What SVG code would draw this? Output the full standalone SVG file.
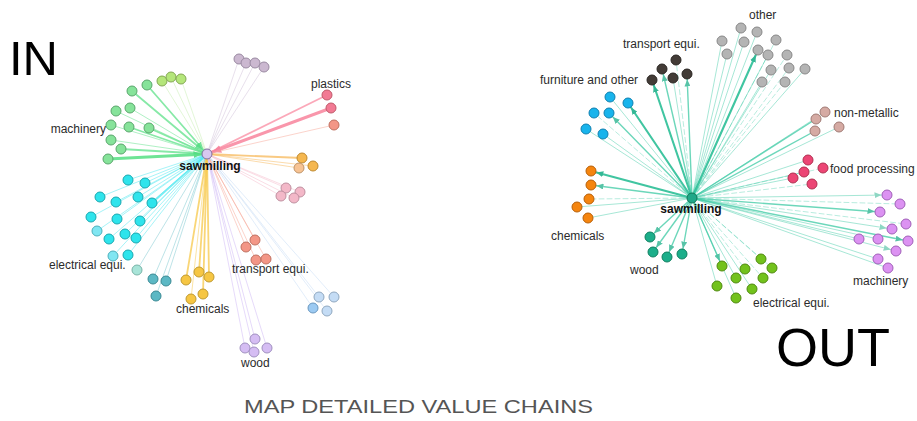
<svg xmlns="http://www.w3.org/2000/svg" width="917" height="421" viewBox="0 0 917 421">
  <defs>
    <style>
      text { font-family: "Liberation Sans", Arial, sans-serif; fill: #2b2b2b; }
      .lbl { font-size: 12px; }
      .hub { font-size: 12px; font-weight: bold; fill: #111; text-anchor: middle; }
      .big { font-size: 50px; fill: #000; }
      .title { font-size: 19px; fill: #555; }
      line { stroke-linecap: round; fill: none; }
      circle { stroke-width: 1; }
      .w1 { stroke-width: 1; opacity: .5; }
      .w2 { stroke-width: 1.8; opacity: .75; }
      .w3 { stroke-width: 3; opacity: .9; }
      /* inbound edge colours */
      .l-gr { stroke: #5fe28a; }
      .l-yg { stroke: #c6eeb0; }
      .l-lv { stroke: #d2c2da; }
      .l-pk { stroke: #f98ba2; }
      .l-or { stroke: #f7b85a; }
      .l-lp { stroke: #f5bccb; }
      .l-cy { stroke: #4ee8f0; }
      .l-tl { stroke: #7cc8d0; }
      .l-ye { stroke: #f7c84a; }
      .l-sa { stroke: #f7a898; }
      .l-lb { stroke: #c6dcf6; }
      .l-pu { stroke: #cdb6f5; }
      /* outbound edges */
      .o { stroke: #3ccaa4; }
      .o.w1 { stroke-width: .9; opacity: .5; }
      .o.w2 { stroke-width: 1.4; opacity: .75; }
      .o.w3 { stroke-width: 2.1; opacity: .9; stroke: #2cbf97; }
      .od { stroke: #3ccaa4; stroke-width: .9; opacity: .4; stroke-dasharray: 5 3; }
      /* node fills */
      .n-gr { fill: #86e39a; stroke: #5aa66c; }
      .n-yg { fill: #b4e67a; stroke: #84a854; }
      .n-lv { fill: #cbb8d0; stroke: #9a8aa2; }
      .n-pk { fill: #f27a94; stroke: #c05a6a; }
      .n-sa { fill: #f39686; stroke: #c07060; }
      .n-or { fill: #f5b74f; stroke: #c08a30; }
      .n-ol { fill: #f7c393; stroke: #c09468; }
      .n-lp { fill: #f3b8c8; stroke: #c090a0; }
      .n-cy { fill: #2ee4ec; stroke: #1aa8b0; }
      .n-cl { fill: #80e6f2; stroke: #4cb0bc; }
      .n-pt { fill: #a8e4d8; stroke: #7ab4a8; }
      .n-tl { fill: #5cb8c4; stroke: #3a8a94; }
      .n-ye { fill: #f6c643; stroke: #c09a30; }
      .n-lb { fill: #c4dcf5; stroke: #90a8c0; }
      .n-bb { fill: #9ccaf2; stroke: #6a98c0; }
      .n-pu { fill: #d5bdf3; stroke: #a090c0; }
      .n-hubL { fill: #d8c8f0; stroke: #8070a0; }
      .n-dk { fill: #433c37; stroke: #2a2622; }
      .n-bl { fill: #18b4ec; stroke: #1080b0; }
      .n-gy { fill: #b4b4b4; stroke: #888888; }
      .n-nm { fill: #d5aaa3; stroke: #a07a74; }
      .n-fd { fill: #ec4675; stroke: #b03050; }
      .n-vi { fill: #dc92f2; stroke: #a060b8; }
      .n-eg { fill: #72c21c; stroke: #508a10; }
      .n-wd { fill: #1cae8a; stroke: #108060; }
      .n-oc { fill: #f5850f; stroke: #b86008; }
      .n-hubR { fill: #20a888; stroke: #107858; }
    </style>
    <marker id="arr-out" markerUnits="userSpaceOnUse" markerWidth="7" markerHeight="6" viewBox="0 0 7 6" refX="12.5" refY="3" orient="auto">
      <path d="M0,0 L7,3 L0,6 z" fill="#1fb08a"/>
    </marker>
    <marker id="arr-gr" markerUnits="userSpaceOnUse" markerWidth="8" markerHeight="7" viewBox="0 0 8 7" refX="13.5" refY="3.5" orient="auto">
      <path d="M0,0 L8,3.5 L0,7 z" fill="#4fdc80"/>
    </marker>
    <marker id="arr-pk" markerUnits="userSpaceOnUse" markerWidth="9" markerHeight="8" viewBox="0 0 9 8" refX="14.5" refY="4" orient="auto">
      <path d="M0,0 L9,4 L0,8 z" fill="#f7809a"/>
    </marker>
  </defs>

  <rect width="917" height="421" fill="#ffffff"/>

  <!-- inbound connectors: every supplier points into the sawmilling hub -->
  <g id="in-connectors">
    <line class="l-yg w1" x1="162" y1="81" x2="207" y2="154"/>
    <line class="l-yg w1" x1="171" y1="77" x2="207" y2="154"/>
    <line class="l-yg w1" x1="181" y1="79" x2="207" y2="154"/>
    <line class="l-lv w1" x1="239" y1="59" x2="207" y2="154"/>
    <line class="l-lv w1" x1="246" y1="63" x2="207" y2="154"/>
    <line class="l-lv w1" x1="255" y1="63" x2="207" y2="154"/>
    <line class="l-lv w1" x1="264" y1="67" x2="207" y2="154"/>
    <line class="l-gr w2" x1="147" y1="85" x2="207" y2="154" marker-end="url(#arr-gr)"/>
    <line class="l-gr w2" x1="132" y1="91" x2="207" y2="154" marker-end="url(#arr-gr)"/>
    <line class="l-gr w1" x1="116" y1="111" x2="207" y2="154"/>
    <line class="l-gr w1" x1="130" y1="108" x2="207" y2="154"/>
    <line class="l-gr w1" x1="111" y1="125" x2="207" y2="154"/>
    <line class="l-gr w2" x1="129" y1="127" x2="207" y2="154"/>
    <line class="l-gr w2" x1="149" y1="128" x2="207" y2="154"/>
    <line class="l-gr w1" x1="111" y1="140" x2="207" y2="154"/>
    <line class="l-gr w2" x1="121" y1="149" x2="207" y2="154"/>
    <line class="l-gr w3" x1="108" y1="159" x2="207" y2="154" marker-end="url(#arr-gr)"/>
    <line class="l-pk w2" x1="327" y1="95" x2="207" y2="154"/>
    <line class="l-pk w3" x1="331" y1="108" x2="207" y2="154" marker-end="url(#arr-pk)"/>
    <line class="l-sa w1" x1="334" y1="125" x2="207" y2="154"/>
    <line class="l-or w2" x1="302" y1="158" x2="207" y2="154"/>
    <line class="l-or w1" x1="313" y1="166" x2="207" y2="154"/>
    <line class="l-or w1" x1="299" y1="168" x2="207" y2="154"/>
    <line class="l-lp w1" x1="286" y1="188" x2="207" y2="154"/>
    <line class="l-lp w1" x1="300" y1="192" x2="207" y2="154"/>
    <line class="l-lp w1" x1="281" y1="196" x2="207" y2="154"/>
    <line class="l-lp w1" x1="294" y1="198" x2="207" y2="154"/>
    <line class="l-cy w1" x1="128" y1="180" x2="207" y2="154"/>
    <line class="l-cy w1" x1="145" y1="183" x2="207" y2="154"/>
    <line class="l-cy w1" x1="100" y1="197" x2="207" y2="154"/>
    <line class="l-cy w1" x1="116" y1="202" x2="207" y2="154"/>
    <line class="l-cy w1" x1="138" y1="197" x2="207" y2="154"/>
    <line class="l-cy w2" x1="152" y1="203" x2="207" y2="154"/>
    <line class="l-cy w1" x1="91" y1="217" x2="207" y2="154"/>
    <line class="l-cy w1" x1="117" y1="219" x2="207" y2="154"/>
    <line class="l-cy w1" x1="140" y1="221" x2="207" y2="154"/>
    <line class="l-cy w1" x1="97" y1="231" x2="207" y2="154"/>
    <line class="l-cy w1" x1="109" y1="239" x2="207" y2="154"/>
    <line class="l-cy w1" x1="125" y1="234" x2="207" y2="154"/>
    <line class="l-cy w1" x1="136" y1="238" x2="207" y2="154"/>
    <line class="l-cy w1" x1="113" y1="256" x2="207" y2="154"/>
    <line class="l-cy w1" x1="128" y1="255" x2="207" y2="154"/>
    <line class="l-tl w1" x1="137" y1="270" x2="207" y2="154"/>
    <line class="l-tl w1" x1="153" y1="279" x2="207" y2="154"/>
    <line class="l-tl w1" x1="166" y1="281" x2="207" y2="154"/>
    <line class="l-tl w1" x1="156" y1="296" x2="207" y2="154"/>
    <line class="l-ye w2" x1="186" y1="280" x2="207" y2="154"/>
    <line class="l-ye w2" x1="199" y1="272" x2="207" y2="154"/>
    <line class="l-ye w2" x1="209" y1="277" x2="207" y2="154"/>
    <line class="l-ye w1" x1="191" y1="299" x2="207" y2="154"/>
    <line class="l-ye w2" x1="203" y1="294" x2="207" y2="154"/>
    <line class="l-sa w1" x1="255" y1="240" x2="207" y2="154"/>
    <line class="l-sa w1" x1="246" y1="247" x2="207" y2="154"/>
    <line class="l-sa w1" x1="256" y1="260" x2="207" y2="154"/>
    <line class="l-sa w1" x1="266" y1="259" x2="207" y2="154"/>
    <line class="l-lb w1" x1="319" y1="297" x2="207" y2="154"/>
    <line class="l-lb w1" x1="334" y1="297" x2="207" y2="154"/>
    <line class="l-lb w1" x1="313" y1="308" x2="207" y2="154"/>
    <line class="l-lb w1" x1="327" y1="311" x2="207" y2="154"/>
    <line class="l-pu w1" x1="255" y1="339" x2="207" y2="154"/>
    <line class="l-pu w1" x1="245" y1="348" x2="207" y2="154"/>
    <line class="l-pu w1" x1="254" y1="352" x2="207" y2="154"/>
    <line class="l-pu w1" x1="267" y1="348" x2="207" y2="154"/>
  </g>

  <!-- outbound connectors: sawmilling hub feeds each customer -->
  <g id="out-connectors">
    <line class="o w3" x1="692" y1="198" x2="652" y2="80" marker-end="url(#arr-out)"/>
    <line class="o w2" x1="692" y1="198" x2="662" y2="69" marker-end="url(#arr-out)"/>
    <line class="od" x1="692" y1="198" x2="676" y2="60"/>
    <line class="o w1" x1="692" y1="198" x2="673" y2="78"/>
    <line class="o w2" x1="692" y1="198" x2="687" y2="74" marker-end="url(#arr-out)"/>
    <line class="o w1" x1="692" y1="198" x2="610" y2="97"/>
    <line class="o w3" x1="692" y1="198" x2="628" y2="103" marker-end="url(#arr-out)"/>
    <line class="od" x1="692" y1="198" x2="594" y2="113"/>
    <line class="o w2" x1="692" y1="198" x2="609" y2="113" marker-end="url(#arr-out)"/>
    <line class="o w1" x1="692" y1="198" x2="586" y2="129"/>
    <line class="o w1" x1="692" y1="198" x2="603" y2="134"/>
    <line class="o w1" x1="692" y1="198" x2="741" y2="28"/>
    <line class="o w1" x1="692" y1="198" x2="757" y2="32"/>
    <line class="o w1" x1="692" y1="198" x2="722" y2="41"/>
    <line class="o w1" x1="692" y1="198" x2="744" y2="42"/>
    <line class="od" x1="692" y1="198" x2="776" y2="40"/>
    <line class="o w1" x1="692" y1="198" x2="727" y2="54"/>
    <line class="o w3" x1="692" y1="198" x2="758" y2="50" marker-end="url(#arr-out)"/>
    <line class="o w1" x1="692" y1="198" x2="768" y2="55"/>
    <line class="od" x1="692" y1="198" x2="787" y2="55"/>
    <line class="o w1" x1="692" y1="198" x2="771" y2="70"/>
    <line class="od" x1="692" y1="198" x2="789" y2="68"/>
    <line class="o w1" x1="692" y1="198" x2="805" y2="69"/>
    <line class="o w1" x1="692" y1="198" x2="762" y2="82"/>
    <line class="od" x1="692" y1="198" x2="785" y2="82"/>
    <line class="o w1" x1="692" y1="198" x2="825" y2="112"/>
    <line class="o w2" x1="692" y1="198" x2="816" y2="119"/>
    <line class="o w2" x1="692" y1="198" x2="815" y2="131"/>
    <line class="o w1" x1="692" y1="198" x2="839" y2="127"/>
    <line class="o w1" x1="692" y1="198" x2="808" y2="160"/>
    <line class="od" x1="692" y1="198" x2="823" y2="168"/>
    <line class="o w1" x1="692" y1="198" x2="804" y2="172"/>
    <line class="o w1" x1="692" y1="198" x2="793" y2="178"/>
    <line class="od" x1="692" y1="198" x2="812" y2="184"/>
    <line class="o w1" x1="692" y1="198" x2="887" y2="195" marker-end="url(#arr-out)"/>
    <line class="od" x1="692" y1="198" x2="900" y2="204"/>
    <line class="o w2" x1="692" y1="198" x2="880" y2="212" marker-end="url(#arr-out)"/>
    <line class="od" x1="692" y1="198" x2="906" y2="224"/>
    <line class="o w1" x1="692" y1="198" x2="892" y2="229" marker-end="url(#arr-out)"/>
    <line class="o w1" x1="692" y1="198" x2="859" y2="239"/>
    <line class="o w1" x1="692" y1="198" x2="878" y2="239"/>
    <line class="o w2" x1="692" y1="198" x2="908" y2="241" marker-end="url(#arr-out)"/>
    <line class="o w1" x1="692" y1="198" x2="896" y2="251" marker-end="url(#arr-out)"/>
    <line class="o w1" x1="692" y1="198" x2="878" y2="259"/>
    <line class="o w1" x1="692" y1="198" x2="888" y2="268"/>
    <line class="o w2" x1="692" y1="198" x2="722" y2="266" marker-end="url(#arr-out)"/>
    <line class="od" x1="692" y1="198" x2="761" y2="259"/>
    <line class="od" x1="692" y1="198" x2="745" y2="269"/>
    <line class="od" x1="692" y1="198" x2="772" y2="268"/>
    <line class="o w1" x1="692" y1="198" x2="736" y2="278"/>
    <line class="od" x1="692" y1="198" x2="763" y2="278"/>
    <line class="o w1" x1="692" y1="198" x2="717" y2="286"/>
    <line class="o w1" x1="692" y1="198" x2="752" y2="289"/>
    <line class="o w1" x1="692" y1="198" x2="736" y2="298"/>
    <line class="o w2" x1="692" y1="198" x2="650" y2="237" marker-end="url(#arr-out)"/>
    <line class="o w2" x1="692" y1="198" x2="653" y2="252" marker-end="url(#arr-out)"/>
    <line class="o w2" x1="692" y1="198" x2="667" y2="257" marker-end="url(#arr-out)"/>
    <line class="o w2" x1="692" y1="198" x2="682" y2="254" marker-end="url(#arr-out)"/>
    <line class="o w3" x1="692" y1="198" x2="591" y2="171" marker-end="url(#arr-out)"/>
    <line class="o w2" x1="692" y1="198" x2="591" y2="185" marker-end="url(#arr-out)"/>
    <line class="od" x1="692" y1="198" x2="589" y2="199"/>
    <line class="o w1" x1="692" y1="198" x2="577" y2="207"/>
    <line class="o w1" x1="692" y1="198" x2="588" y2="218"/>
  </g>

  <!-- IN network nodes -->
  <g id="in-yg-1"><circle class="n-yg" cx="162" cy="81" r="5"/></g>
  <g id="in-yg-2"><circle class="n-yg" cx="171" cy="77" r="5"/></g>
  <g id="in-yg-3"><circle class="n-yg" cx="181" cy="79" r="5"/></g>
  <g id="in-lv-1"><circle class="n-lv" cx="239" cy="59" r="5"/></g>
  <g id="in-lv-2"><circle class="n-lv" cx="246" cy="63" r="5"/></g>
  <g id="in-lv-3"><circle class="n-lv" cx="255" cy="63" r="5"/></g>
  <g id="in-lv-4"><circle class="n-lv" cx="264" cy="67" r="5"/></g>
  <g id="in-machinery-1"><circle class="n-gr" cx="147" cy="85" r="5"/></g>
  <g id="in-machinery-2"><circle class="n-gr" cx="132" cy="91" r="5"/></g>
  <g id="in-machinery-3"><circle class="n-gr" cx="116" cy="111" r="5"/></g>
  <g id="in-machinery-4"><circle class="n-gr" cx="130" cy="108" r="5"/></g>
  <g id="in-machinery-5"><circle class="n-gr" cx="111" cy="125" r="5"/></g>
  <g id="in-machinery-6"><circle class="n-gr" cx="129" cy="127" r="5"/></g>
  <g id="in-machinery-7"><circle class="n-gr" cx="149" cy="128" r="5"/></g>
  <g id="in-machinery-8"><circle class="n-gr" cx="111" cy="140" r="5"/></g>
  <g id="in-machinery-9"><circle class="n-gr" cx="121" cy="149" r="5"/></g>
  <g id="in-machinery-10"><circle class="n-gr" cx="108" cy="159" r="5"/></g>
  <g id="in-plastics-1"><circle class="n-pk" cx="327" cy="95" r="5"/></g>
  <g id="in-plastics-2"><circle class="n-pk" cx="331" cy="108" r="5"/></g>
  <g id="in-plastics-3"><circle class="n-sa" cx="334" cy="125" r="5"/></g>
  <g id="in-or-1"><circle class="n-or" cx="302" cy="158" r="5"/></g>
  <g id="in-or-2"><circle class="n-or" cx="313" cy="166" r="5"/></g>
  <g id="in-or-3"><circle class="n-ol" cx="299" cy="168" r="5"/></g>
  <g id="in-lp-1"><circle class="n-lp" cx="286" cy="188" r="5"/></g>
  <g id="in-lp-2"><circle class="n-lp" cx="300" cy="192" r="5"/></g>
  <g id="in-lp-3"><circle class="n-lp" cx="281" cy="196" r="5"/></g>
  <g id="in-lp-4"><circle class="n-lp" cx="294" cy="198" r="5"/></g>
  <g id="in-elec-1"><circle class="n-cy" cx="128" cy="180" r="5"/></g>
  <g id="in-elec-2"><circle class="n-cy" cx="145" cy="183" r="5"/></g>
  <g id="in-elec-3"><circle class="n-cy" cx="100" cy="197" r="5"/></g>
  <g id="in-elec-4"><circle class="n-cy" cx="116" cy="202" r="5"/></g>
  <g id="in-elec-5"><circle class="n-cy" cx="138" cy="197" r="5"/></g>
  <g id="in-elec-6"><circle class="n-cy" cx="152" cy="203" r="5"/></g>
  <g id="in-elec-7"><circle class="n-cy" cx="91" cy="217" r="5"/></g>
  <g id="in-elec-8"><circle class="n-cy" cx="117" cy="219" r="5"/></g>
  <g id="in-elec-9"><circle class="n-cy" cx="140" cy="221" r="5"/></g>
  <g id="in-elec-10"><circle class="n-cl" cx="97" cy="231" r="5"/></g>
  <g id="in-elec-11"><circle class="n-cy" cx="109" cy="239" r="5"/></g>
  <g id="in-elec-12"><circle class="n-cy" cx="125" cy="234" r="5"/></g>
  <g id="in-elec-13"><circle class="n-cy" cx="136" cy="238" r="5"/></g>
  <g id="in-elec-14"><circle class="n-cl" cx="113" cy="256" r="5"/></g>
  <g id="in-elec-15"><circle class="n-cy" cx="128" cy="255" r="5"/></g>
  <g id="in-tl-1"><circle class="n-pt" cx="137" cy="270" r="5"/></g>
  <g id="in-tl-2"><circle class="n-tl" cx="153" cy="279" r="5"/></g>
  <g id="in-tl-3"><circle class="n-tl" cx="166" cy="281" r="5"/></g>
  <g id="in-tl-4"><circle class="n-tl" cx="156" cy="296" r="5"/></g>
  <g id="in-chem-1"><circle class="n-ye" cx="186" cy="280" r="5"/></g>
  <g id="in-chem-2"><circle class="n-ye" cx="199" cy="272" r="5"/></g>
  <g id="in-chem-3"><circle class="n-ye" cx="209" cy="277" r="5"/></g>
  <g id="in-chem-4"><circle class="n-ye" cx="191" cy="299" r="5"/></g>
  <g id="in-chem-5"><circle class="n-ye" cx="203" cy="294" r="5"/></g>
  <g id="in-transport-1"><circle class="n-sa" cx="255" cy="240" r="5"/></g>
  <g id="in-transport-2"><circle class="n-sa" cx="246" cy="247" r="5"/></g>
  <g id="in-transport-3"><circle class="n-sa" cx="256" cy="260" r="5"/></g>
  <g id="in-transport-4"><circle class="n-sa" cx="266" cy="259" r="5"/></g>
  <g id="in-lb-1"><circle class="n-lb" cx="319" cy="297" r="5"/></g>
  <g id="in-lb-2"><circle class="n-lb" cx="334" cy="297" r="5"/></g>
  <g id="in-lb-3"><circle class="n-bb" cx="313" cy="308" r="5"/></g>
  <g id="in-lb-4"><circle class="n-lb" cx="327" cy="311" r="5"/></g>
  <g id="in-wood-1"><circle class="n-pu" cx="255" cy="339" r="5"/></g>
  <g id="in-wood-2"><circle class="n-pu" cx="245" cy="348" r="5"/></g>
  <g id="in-wood-3"><circle class="n-pu" cx="254" cy="352" r="5"/></g>
  <g id="in-wood-4"><circle class="n-pu" cx="267" cy="348" r="5"/></g>
  <g id="in-sawmilling"><circle class="n-hubL" cx="207" cy="154" r="5"/></g>

  <!-- OUT network nodes -->
  <g id="out-transport-1"><circle class="n-dk" cx="676" cy="60" r="5"/></g>
  <g id="out-transport-2"><circle class="n-dk" cx="662" cy="69" r="5"/></g>
  <g id="out-transport-3"><circle class="n-dk" cx="673" cy="78" r="5"/></g>
  <g id="out-transport-4"><circle class="n-dk" cx="687" cy="74" r="5"/></g>
  <g id="out-transport-5"><circle class="n-dk" cx="652" cy="80" r="5"/></g>
  <g id="out-furniture-1"><circle class="n-bl" cx="610" cy="97" r="5"/></g>
  <g id="out-furniture-2"><circle class="n-bl" cx="628" cy="103" r="5"/></g>
  <g id="out-furniture-3"><circle class="n-bl" cx="594" cy="113" r="5"/></g>
  <g id="out-furniture-4"><circle class="n-bl" cx="609" cy="113" r="5"/></g>
  <g id="out-furniture-5"><circle class="n-bl" cx="586" cy="129" r="5"/></g>
  <g id="out-furniture-6"><circle class="n-bl" cx="603" cy="134" r="5"/></g>
  <g id="out-other-1"><circle class="n-gy" cx="741" cy="28" r="5"/></g>
  <g id="out-other-2"><circle class="n-gy" cx="757" cy="32" r="5"/></g>
  <g id="out-other-3"><circle class="n-gy" cx="722" cy="41" r="5"/></g>
  <g id="out-other-4"><circle class="n-gy" cx="744" cy="42" r="5"/></g>
  <g id="out-other-5"><circle class="n-gy" cx="776" cy="40" r="5"/></g>
  <g id="out-other-6"><circle class="n-gy" cx="727" cy="54" r="5"/></g>
  <g id="out-other-7"><circle class="n-gy" cx="758" cy="50" r="5"/></g>
  <g id="out-other-8"><circle class="n-gy" cx="768" cy="55" r="5"/></g>
  <g id="out-other-9"><circle class="n-gy" cx="787" cy="55" r="5"/></g>
  <g id="out-other-10"><circle class="n-gy" cx="771" cy="70" r="5"/></g>
  <g id="out-other-11"><circle class="n-gy" cx="789" cy="68" r="5"/></g>
  <g id="out-other-12"><circle class="n-gy" cx="805" cy="69" r="5"/></g>
  <g id="out-other-13"><circle class="n-gy" cx="762" cy="82" r="5"/></g>
  <g id="out-other-14"><circle class="n-gy" cx="785" cy="82" r="5"/></g>
  <g id="out-nonmetallic-1"><circle class="n-nm" cx="825" cy="112" r="5"/></g>
  <g id="out-nonmetallic-2"><circle class="n-nm" cx="816" cy="119" r="5"/></g>
  <g id="out-nonmetallic-3"><circle class="n-nm" cx="815" cy="131" r="5"/></g>
  <g id="out-nonmetallic-4"><circle class="n-nm" cx="839" cy="127" r="5"/></g>
  <g id="out-food-1"><circle class="n-fd" cx="808" cy="160" r="5"/></g>
  <g id="out-food-2"><circle class="n-fd" cx="823" cy="168" r="5"/></g>
  <g id="out-food-3"><circle class="n-fd" cx="804" cy="172" r="5"/></g>
  <g id="out-food-4"><circle class="n-fd" cx="793" cy="178" r="5"/></g>
  <g id="out-food-5"><circle class="n-fd" cx="812" cy="184" r="5"/></g>
  <g id="out-machinery-1"><circle class="n-vi" cx="887" cy="195" r="5"/></g>
  <g id="out-machinery-2"><circle class="n-vi" cx="900" cy="204" r="5"/></g>
  <g id="out-machinery-3"><circle class="n-vi" cx="880" cy="212" r="5"/></g>
  <g id="out-machinery-4"><circle class="n-vi" cx="906" cy="224" r="5"/></g>
  <g id="out-machinery-5"><circle class="n-vi" cx="892" cy="229" r="5"/></g>
  <g id="out-machinery-6"><circle class="n-vi" cx="859" cy="239" r="5"/></g>
  <g id="out-machinery-7"><circle class="n-vi" cx="878" cy="239" r="5"/></g>
  <g id="out-machinery-8"><circle class="n-vi" cx="908" cy="241" r="5"/></g>
  <g id="out-machinery-9"><circle class="n-vi" cx="896" cy="251" r="5"/></g>
  <g id="out-machinery-10"><circle class="n-vi" cx="878" cy="259" r="5"/></g>
  <g id="out-machinery-11"><circle class="n-vi" cx="888" cy="268" r="5"/></g>
  <g id="out-elec-1"><circle class="n-eg" cx="722" cy="266" r="5"/></g>
  <g id="out-elec-2"><circle class="n-eg" cx="761" cy="259" r="5"/></g>
  <g id="out-elec-3"><circle class="n-eg" cx="745" cy="269" r="5"/></g>
  <g id="out-elec-4"><circle class="n-eg" cx="772" cy="268" r="5"/></g>
  <g id="out-elec-5"><circle class="n-eg" cx="736" cy="278" r="5"/></g>
  <g id="out-elec-6"><circle class="n-eg" cx="763" cy="278" r="5"/></g>
  <g id="out-elec-7"><circle class="n-eg" cx="717" cy="286" r="5"/></g>
  <g id="out-elec-8"><circle class="n-eg" cx="752" cy="289" r="5"/></g>
  <g id="out-elec-9"><circle class="n-eg" cx="736" cy="298" r="5"/></g>
  <g id="out-wood-1"><circle class="n-wd" cx="650" cy="237" r="5"/></g>
  <g id="out-wood-2"><circle class="n-wd" cx="653" cy="252" r="5"/></g>
  <g id="out-wood-3"><circle class="n-wd" cx="667" cy="257" r="5"/></g>
  <g id="out-wood-4"><circle class="n-wd" cx="682" cy="254" r="5"/></g>
  <g id="out-chem-1"><circle class="n-oc" cx="591" cy="171" r="5"/></g>
  <g id="out-chem-2"><circle class="n-oc" cx="591" cy="185" r="5"/></g>
  <g id="out-chem-3"><circle class="n-oc" cx="589" cy="199" r="5"/></g>
  <g id="out-chem-4"><circle class="n-oc" cx="577" cy="207" r="5"/></g>
  <g id="out-chem-5"><circle class="n-oc" cx="588" cy="218" r="5"/></g>
  <g id="out-sawmilling"><circle class="n-hubR" cx="692" cy="198" r="5"/></g>

  <!-- cluster labels -->
  <g id="in-labels">
    <text class="hub" x="210" y="170">sawmilling</text>
    <text class="lbl" x="106" y="133" text-anchor="end">machinery</text>
    <text class="lbl" x="311" y="88">plastics</text>
    <text class="lbl" x="49" y="269">electrical equi.</text>
    <text class="lbl" x="232" y="273">transport equi.</text>
    <text class="lbl" x="176" y="313">chemicals</text>
    <text class="lbl" x="241" y="367">wood</text>
  </g>
  <g id="out-labels">
    <text class="hub" x="691" y="213">sawmilling</text>
    <text class="lbl" x="749" y="19">other</text>
    <text class="lbl" x="623" y="48">transport equi.</text>
    <text class="lbl" x="540" y="84">furniture and other</text>
    <text class="lbl" x="834" y="117">non-metallic</text>
    <text class="lbl" x="830" y="173">food processing</text>
    <text class="lbl" x="853" y="285">machinery</text>
    <text class="lbl" x="753" y="307">electrical equi.</text>
    <text class="lbl" x="630" y="274">wood</text>
    <text class="lbl" x="551" y="240">chemicals</text>
  </g>

  <!-- headings -->
  <text class="big" x="9" y="75" style="font-size:49px">IN</text>
  <text class="big" x="776" y="366" style="font-size:54px">OUT</text>
  <text class="title" x="244" y="413" textLength="349" lengthAdjust="spacingAndGlyphs">MAP DETAILED VALUE CHAINS</text>
</svg>
